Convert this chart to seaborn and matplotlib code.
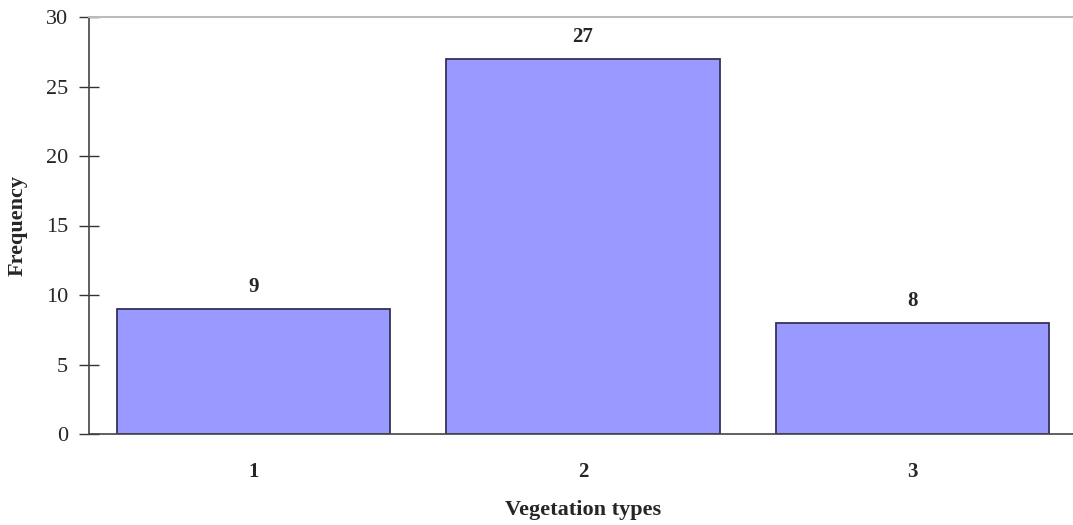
import matplotlib
matplotlib.use("Agg")
import matplotlib.pyplot as plt
import seaborn as sns
import pandas as pd

categories = ["1", "2", "3"]
frequencies = [9, 27, 8]
yticks = [0, 5, 10, 15, 20, 25, 30]

sns.set_style("white")
plt.rcParams['font.family'] = ['Liberation Serif', 'DejaVu Serif']
plt.rcParams['font.weight'] = 'bold'

fig = plt.figure(figsize=(10.73, 5.25), dpi=100)
ax = fig.add_axes([89/1073, (525-434)/525, (1077-89)/1073, (434-17)/525])

df = pd.DataFrame({"type": categories, "freq": frequencies})
sns.barplot(data=df, x="type", y="freq", ax=ax, color="#9999FF", saturation=1,
            width=0.83, edgecolor="#33335a", linewidth=1.3)

for i, v in enumerate(frequencies):
    ax.text(i, v + 0.85, str(v), ha="center", va="bottom", fontsize=15, fontweight="bold")

ax.set_xlim(-0.5, 2.5)
ax.set_ylim(0, 30)
ax.set_yticks(yticks)
ax.set_yticklabels([str(t) for t in yticks], fontsize=16, fontweight="normal")
ax.set_xticks(range(len(categories)))
ax.set_xticklabels(categories, fontsize=15, fontweight="bold")
ax.tick_params(axis="x", which="major", length=0, pad=20)
ax.set_xticks([-0.5, 0.5, 1.5, 2.5], minor=True)
ax.tick_params(axis="x", which="minor", length=14, width=1, color="#333333", direction="inout")
ax.tick_params(axis="y", which="major", length=14, width=1, color="#333333", direction="inout", pad=8, left=True)

for s in ["left", "bottom"]:
    ax.spines[s].set_color("#444444")
    ax.spines[s].set_linewidth(1.2)
ax.spines["right"].set_visible(False)
ax.spines["top"].set_color("#bbbbbb")
ax.spines["top"].set_linewidth(1.5)

ax.set_xlabel("Vegetation types", fontsize=16, fontweight="bold")
ax.set_ylabel("Frequency", fontsize=16, fontweight="bold")
ax.xaxis.set_label_coords(0.5, (434 - 510) / 417)
ax.xaxis.label.set_va("center")
ax.yaxis.set_label_coords((18 - 89) / 988, 0.5)
ax.yaxis.label.set_va("center")

fig.savefig("out.png", dpi=100)
